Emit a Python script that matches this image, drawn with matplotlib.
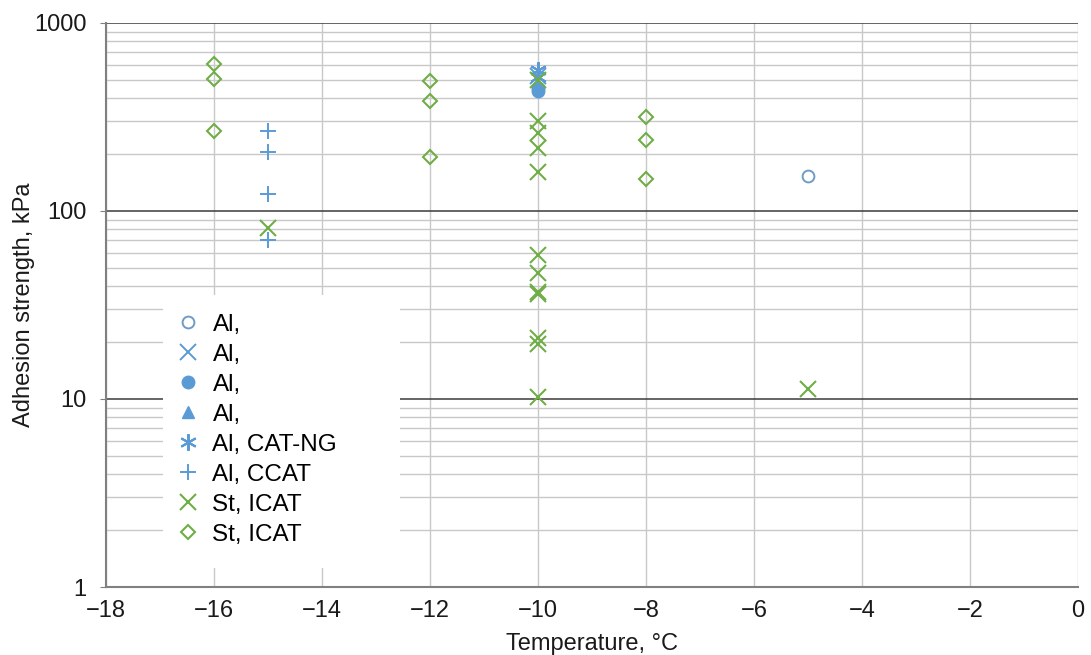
import matplotlib
matplotlib.use("Agg")
import matplotlib.pyplot as plt
from matplotlib.patches import Rectangle
from matplotlib.ticker import LogLocator, FixedLocator, NullFormatter

# Series (temperature in °C, adhesion strength in kPa)
al_open_t = [-5]
al_open_v = [153]

al_x_t = [-10]
al_x_v = [520]

al_dot_t = [-10, -10]
al_dot_v = [451, 432]

al_tri_t = [-10]
al_tri_v = [470]

al_catng_t = [-10, -10]
al_catng_v = [560, 515]

al_ccat_t = [-15, -15, -15, -15]
al_ccat_v = [267, 206, 123, 70]

st_x_t = [-15, -10, -10, -10, -10, -10, -10, -10, -10, -10, -10, -10, -10, -5]
st_x_v = [81, 500, 301, 260, 216, 161, 58, 47, 37, 36, 21, 19.5, 10.3, 11.3]

st_d_t = [-16, -16, -16, -12, -12, -12, -8, -8, -8]
st_d_v = [605, 504, 267, 491, 385, 194, 316, 239, 148]

x_ticks = [-18, -16, -14, -12, -10, -8, -6, -4, -2, 0]
y_ticks = [1, 10, 100, 1000]

blue = "#5b9bd5"
blue_open = "#6f9cc4"
green = "#70ad47"

plt.rcParams["font.family"] = ["Liberation Sans", "DejaVu Sans"]

fig = plt.figure(figsize=(10.91, 6.55), dpi=100)
ax = fig.add_axes([0.0972, 0.1038, 0.891, 0.8612])

ax.plot(al_open_t, al_open_v, "o", ms=8.5, mfc="none", mec=blue_open, mew=1.4, label="Al,", zorder=3)
ax.plot(al_x_t, al_x_v, "x", ms=11, mec=blue, mew=1.4, label="Al,", zorder=3)
ax.plot(al_dot_t, al_dot_v, "o", ms=9, mfc=blue, mec=blue, label="Al,", zorder=3)
ax.plot(al_tri_t, al_tri_v, "^", ms=9, mfc=blue, mec=blue, label="Al,", zorder=3)
ax.plot(al_catng_t, al_catng_v, marker=(6, 2, 0), ls="none", ms=12, mec=blue, mew=1.5,
        label="Al, CAT-NG", zorder=3)
ax.plot(al_ccat_t, al_ccat_v, "+", ms=12, mec=blue, mew=1.4, label="Al, CCAT", zorder=3)
ax.plot(st_x_t, st_x_v, "x", ms=12, mec=green, mew=1.5, label="St, ICAT", zorder=4)
ax.plot(st_d_t, st_d_v, "D", ms=7.5, mfc="none", mec=green, mew=1.5, label="St, ICAT", zorder=3)

ax.set_yscale("log")
ax.set_xlim(-18, 0)
ax.set_ylim(1, 1000)
ax.set_xticks(x_ticks)
ax.set_xticklabels(["\u2212" + str(-t) if t < 0 else str(t) for t in x_ticks])
ax.yaxis.set_major_locator(FixedLocator(y_ticks))
ax.set_yticklabels([str(t) for t in y_ticks])
ax.yaxis.set_minor_locator(LogLocator(base=10, subs=range(2, 10)))
ax.yaxis.set_minor_formatter(NullFormatter())

ax.set_axisbelow(True)
ax.grid(True, which="major", axis="y", color="#3a3a3a", lw=1.1)
ax.grid(True, which="minor", axis="y", color="#c8c8c8", lw=1.0)
ax.grid(True, which="major", axis="x", color="#c8c8c8", lw=1.0)

ax.tick_params(axis="both", which="major", labelsize=17, color="#808080", labelcolor="#1a1a1a")
ax.tick_params(axis="x", which="major", length=0, pad=9)
ax.tick_params(axis="y", which="major", length=4, pad=10)
ax.tick_params(axis="y", which="minor", length=0)
for side in ["left", "bottom"]:
    ax.spines[side].set_color("#808080")
    ax.spines[side].set_linewidth(1.5)
for side in ["top", "right"]:
    ax.spines[side].set_visible(False)

ax.set_xlabel("Temperature, \u00b0C", fontsize=17, labelpad=8, color="#1a1a1a")
ax.set_ylabel("Adhesion strength, kPa", fontsize=17, labelpad=-1, color="#1a1a1a")

# white legend area covering the grid
ax.add_patch(Rectangle((0.0586, 0.034), 0.244, 0.484, transform=ax.transAxes,
                       facecolor="white", edgecolor="none", zorder=2))

leg = ax.legend(loc="upper left", bbox_to_anchor=(0.062, 0.502), frameon=False,
                fontsize=17.5, handlelength=1.0, handletextpad=0.5, labelspacing=0.33,
                borderaxespad=0)
leg.set_zorder(5)

fig.savefig("out.png", dpi=100)
